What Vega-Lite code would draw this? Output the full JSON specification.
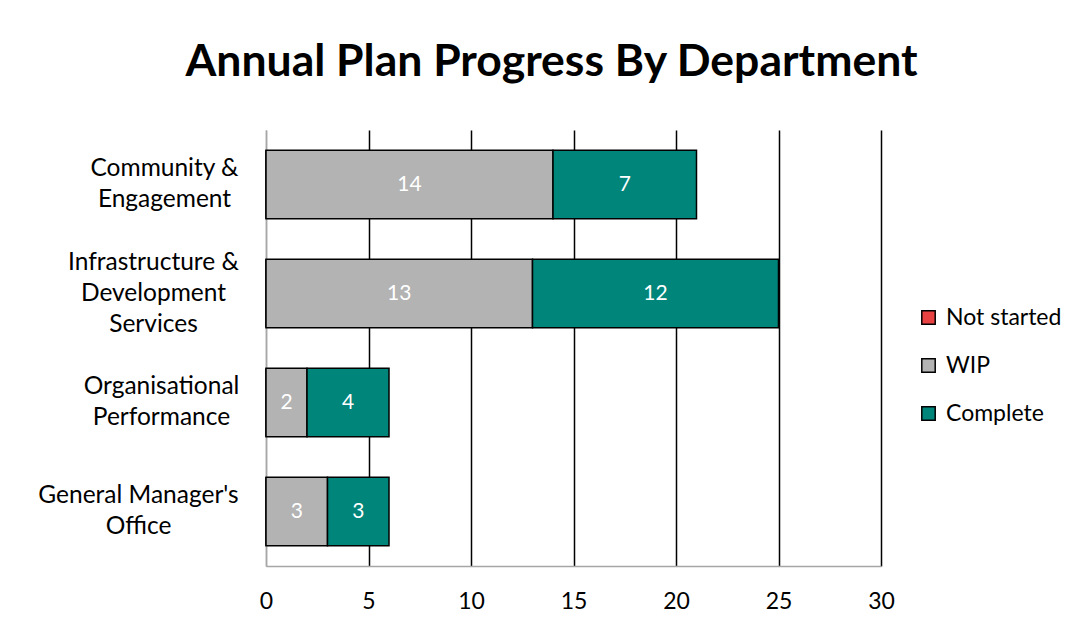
{
  "$schema": "https://vega.github.io/schema/vega-lite/v6.json",
  "width": 615,
  "height": 436,
  "autosize": "none",
  "padding": {"left": 266, "top": 130, "right": 202, "bottom": 66},
  "background": "white",
  "title": {
    "text": "Annual Plan Progress By Department",
    "font": "Lato",
    "fontSize": 44.5,
    "fontWeight": "bold",
    "color": "black",
    "anchor": "middle",
    "dx": -22,
    "offset": 45
  },
  "data": {
    "values": [
      {"dept": "Community &\nEngagement", "status": "Not started", "ord": 0, "n": 0},
      {"dept": "Community &\nEngagement", "status": "WIP", "ord": 1, "n": 14},
      {"dept": "Community &\nEngagement", "status": "Complete", "ord": 2, "n": 7},
      {"dept": "Infrastructure &\nDevelopment\nServices", "status": "Not started", "ord": 0, "n": 0},
      {"dept": "Infrastructure &\nDevelopment\nServices", "status": "WIP", "ord": 1, "n": 13},
      {"dept": "Infrastructure &\nDevelopment\nServices", "status": "Complete", "ord": 2, "n": 12},
      {"dept": "Organisational\nPerformance", "status": "Not started", "ord": 0, "n": 0},
      {"dept": "Organisational\nPerformance", "status": "WIP", "ord": 1, "n": 2},
      {"dept": "Organisational\nPerformance", "status": "Complete", "ord": 2, "n": 4},
      {"dept": "General Manager's\nOffice", "status": "Not started", "ord": 0, "n": 0},
      {"dept": "General Manager's\nOffice", "status": "WIP", "ord": 1, "n": 3},
      {"dept": "General Manager's\nOffice", "status": "Complete", "ord": 2, "n": 3}
    ]
  },
  "transform": [
    {"stack": "n", "groupby": ["dept"], "sort": [{"field": "ord"}], "as": ["x0", "x1"]},
    {"calculate": "(datum.x0 + datum.x1) / 2", "as": "xm"}
  ],
  "encoding": {
    "y": {
      "field": "dept",
      "type": "nominal",
      "sort": ["Community &\nEngagement", "Infrastructure &\nDevelopment\nServices", "Organisational\nPerformance", "General Manager's\nOffice"],
      "scale": {"paddingInner": 0.37, "paddingOuter": 0.185},
      "axis": {
        "title": null,
        "labelExpr": "split(datum.label, '\\n')",
        "labelFont": "Lato",
        "labelFontSize": 24.5,
        "labelColor": "black",
        "labelAlign": "center",
        "labelBaseline": "middle",
        "labelLineHeight": 31,
        "labelPadding": {
          "condition": [
            {"test": "substring(datum.value, 0, 4) === 'Comm'", "value": 102},
            {"test": "substring(datum.value, 0, 4) === 'Infr'", "value": 113},
            {"test": "substring(datum.value, 0, 4) === 'Orga'", "value": 105}
          ],
          "value": 128
        },
        "labelOffset": {
          "condition": {"test": "substring(datum.value, 0, 4) === 'Infr'", "value": -31},
          "value": -15.5
        },
        "ticks": false,
        "domainColor": "#a6a6a6",
        "domainWidth": 1.5,
        "grid": false,
        "labelLimit": 300
      }
    }
  },
  "layer": [
    {
      "mark": {"type": "bar", "stroke": "black", "strokeWidth": 1.5},
      "encoding": {
        "x": {
          "field": "x0",
          "type": "quantitative",
          "scale": {"domain": [0, 30], "nice": false},
          "axis": {
            "title": null,
            "values": [0, 5, 10, 15, 20, 25, 30],
            "labelFont": "Lato",
            "labelFontSize": 23,
            "labelColor": "black",
            "labelPadding": 24,
            "labelFlush": false,
            "ticks": false,
            "domainColor": "#a6a6a6",
            "domainWidth": 1.5,
            "grid": true,
            "gridColor": {"condition": {"test": "datum.value === 0", "value": "#a6a6a6"}, "value": "black"},
            "gridWidth": 1.5
          }
        },
        "x2": {"field": "x1"},
        "color": {
          "field": "status",
          "type": "nominal",
          "scale": {"domain": ["Not started", "WIP", "Complete"], "range": ["#e84242", "#b3b3b3", "#00857a"]},
          "legend": {
            "title": null,
            "orient": "none",
            "legendX": 651,
            "legendY": 176,
            "symbolType": "square",
            "symbolSize": 180,
            "symbolStrokeColor": "black",
            "symbolStrokeWidth": 1.5,
            "labelFont": "Lato",
            "labelFontSize": 23,
            "labelColor": "black",
            "rowPadding": 24,
            "labelOffset": 6
          }
        }
      }
    },
    {
      "transform": [{"filter": "datum.n > 0"}],
      "mark": {"type": "text", "color": "white", "font": "Lato", "fontSize": 21, "baseline": "middle", "align": "center"},
      "encoding": {
        "x": {"field": "xm", "type": "quantitative"},
        "text": {"field": "n", "type": "quantitative"}
      }
    }
  ],
  "config": {"view": {"stroke": null}}
}
